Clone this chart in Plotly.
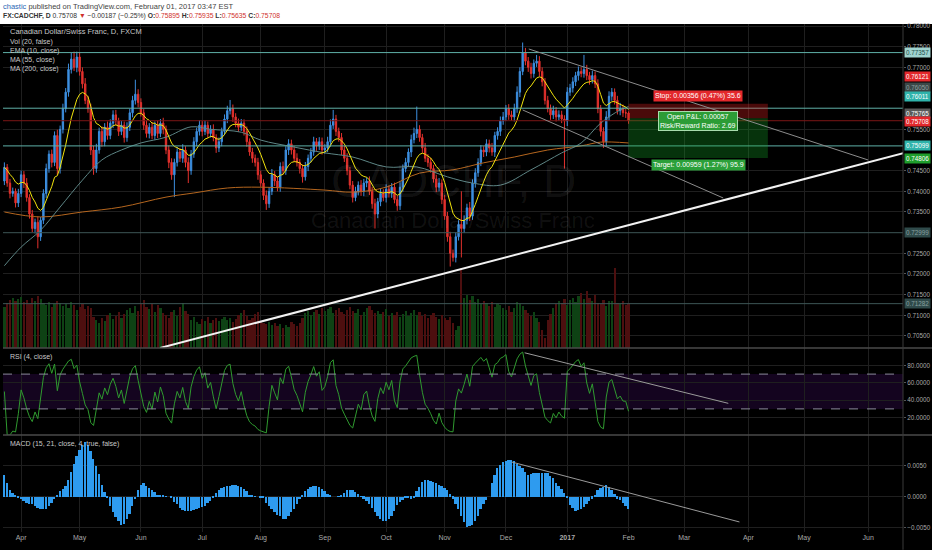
import pandas as pd
import plotly.graph_objects as go

# daily bars (weekdays) Mar 24 2016 .. Feb 01 2017, plus future dates for the axis
dates = pd.bdate_range("2016-03-24", "2017-06-30")

first_open = 0.7425
closes = [
    0.7458, 0.7420, 0.7395, 0.7400, 0.7372, 0.7395, 0.7440, 0.7420, 0.7385, 0.7345,
    0.7310, 0.7325, 0.7290, 0.7330, 0.7395, 0.7455, 0.7490, 0.7470, 0.7535, 0.7455,
    0.7550, 0.7600, 0.7640, 0.7695, 0.7720, 0.7700, 0.7725, 0.7690, 0.7660, 0.7620,
    0.7600, 0.7500, 0.7455, 0.7500, 0.7545, 0.7520, 0.7555, 0.7535, 0.7565, 0.7585,
    0.7570, 0.7545, 0.7560, 0.7530, 0.7555, 0.7590, 0.7620, 0.7635, 0.7615, 0.7590,
    0.7560, 0.7540, 0.7555, 0.7535, 0.7560, 0.7540, 0.7565, 0.7550, 0.7500, 0.7470,
    0.7440, 0.7470, 0.7495, 0.7480, 0.7500, 0.7470, 0.7450, 0.7490, 0.7520, 0.7545,
    0.7560, 0.7545, 0.7560, 0.7540, 0.7550, 0.7530, 0.7505, 0.7520, 0.7545, 0.7575,
    0.7595, 0.7600, 0.7580, 0.7565, 0.7555, 0.7565, 0.7545, 0.7520, 0.7495, 0.7480,
    0.7470, 0.7440, 0.7420, 0.7390, 0.7370, 0.7400, 0.7440, 0.7425, 0.7410, 0.7460,
    0.7450, 0.7500, 0.7515, 0.7500, 0.7480, 0.7470, 0.7455, 0.7435, 0.7460, 0.7480,
    0.7495, 0.7520, 0.7510, 0.7520, 0.7500, 0.7505, 0.7520, 0.7560, 0.7575, 0.7545,
    0.7530, 0.7500, 0.7480, 0.7450, 0.7415, 0.7385, 0.7400, 0.7415, 0.7400, 0.7420,
    0.7425, 0.7400, 0.7370, 0.7345, 0.7375, 0.7395, 0.7385, 0.7405, 0.7395, 0.7410,
    0.7380, 0.7365, 0.7410, 0.7455, 0.7470, 0.7495, 0.7525, 0.7540, 0.7550, 0.7530,
    0.7505, 0.7480, 0.7470, 0.7455, 0.7430, 0.7410, 0.7420, 0.7380, 0.7340, 0.7290,
    0.7250, 0.7240, 0.7290, 0.7320, 0.7310, 0.7330, 0.7360, 0.7340, 0.7420, 0.7445,
    0.7470, 0.7500, 0.7495, 0.7515, 0.7505, 0.7495, 0.7535, 0.7545, 0.7570, 0.7580,
    0.7600, 0.7585, 0.7580, 0.7600, 0.7640, 0.7690, 0.7735, 0.7715, 0.7700, 0.7685,
    0.7710, 0.7715, 0.7690, 0.7665, 0.7620, 0.7600, 0.7585, 0.7595, 0.7580, 0.7585,
    0.7575, 0.7570, 0.7640, 0.7650, 0.7665, 0.7680, 0.7690, 0.7685, 0.7695, 0.7680,
    0.7670, 0.7680, 0.7660, 0.7600, 0.7545, 0.7520, 0.7580, 0.7630, 0.7640, 0.7620,
    0.7595, 0.7600, 0.7590, 0.75895, 0.75708,
]
# wick lengths in pips above the body / below the body
upper_wick = [
    12, 8, 10, 9, 7, 11, 10, 9, 12, 8,
    10, 9, 14, 8, 10, 12, 9, 11, 10, 14,
    9, 12, 10, 14, 15, 18, 13, 12, 10, 14,
    11, 12, 10, 15, 9, 12, 10, 14, 9, 11,
    12, 8, 10, 9, 12, 10, 11, 35, 12, 10,
    9, 11, 10, 12, 9, 11, 10, 13, 9, 11,
    10, 9, 12, 10, 14, 9, 12, 10, 11, 9,
    12, 10, 11, 9, 10, 12, 8, 10, 9, 11,
    12, 21, 10, 9, 11, 10, 9, 12, 8, 10,
    9, 11, 10, 9, 12, 10, 14, 9, 11, 10,
    12, 9, 11, 10, 9, 12, 8, 10, 11, 9,
    10, 12, 9, 11, 10, 9, 12, 14, 22, 10,
    9, 11, 10, 12, 9, 10, 11, 9, 12, 10,
    9, 11, 10, 12, 9, 11, 10, 12, 9, 10,
    11, 9, 12, 10, 11, 9, 12, 14, 55, 10,
    9, 12, 10, 11, 9, 10, 12, 9, 11, 10,
    12, 9, 11, 10, 80, 12, 10, 14, 9, 11,
    10, 12, 9, 11, 10, 12, 9, 10, 11, 12,
    9, 11, 10, 12, 14, 10, 25, 12, 10, 11,
    9, 15, 12, 10, 9, 11, 10, 12, 9, 11,
    10, 9, 12, 10, 11, 9, 12, 10, 35, 11,
    9, 12, 10, 11, 9, 10, 14, 12, 10, 9,
    11, 14, 10, 9, 4,
]
lower_wick = [
    10, 9, 12, 8, 11, 10, 9, 12, 10, 11,
    9, 12, 28, 10, 9, 11, 10, 12, 9, 15,
    12, 10, 9, 11, 10, 9, 12, 10, 11, 9,
    10, 12, 15, 10, 9, 12, 11, 10, 9, 12,
    10, 11, 9, 12, 10, 9, 11, 10, 12, 9,
    11, 10, 12, 9, 10, 11, 9, 12, 10, 14,
    12, 54, 10, 9, 11, 12, 30, 10, 9, 11,
    10, 12, 9, 11, 10, 9, 12, 10, 11, 9,
    10, 9, 12, 10, 11, 9, 10, 12, 9, 11,
    10, 12, 9, 11, 15, 10, 9, 12, 10, 11,
    9, 10, 12, 11, 9, 10, 12, 14, 9, 11,
    10, 9, 12, 10, 11, 9, 10, 12, 9, 11,
    10, 12, 9, 11, 10, 12, 9, 10, 11, 12,
    10, 9, 12, 35, 10, 11, 9, 12, 10, 11,
    9, 12, 10, 11, 9, 10, 12, 9, 11, 10,
    12, 9, 11, 10, 9, 12, 10, 11, 9, 12,
    32, 10, 12, 9, 70, 11, 10, 12, 9, 11,
    10, 9, 12, 10, 11, 9, 12, 10, 11, 9,
    10, 12, 9, 11, 10, 12, 9, 10, 11, 12,
    10, 9, 12, 11, 10, 9, 12, 10, 11, 9,
    10, 115, 12, 9, 11, 10, 12, 9, 10, 11,
    12, 9, 10, 11, 12, 15, 10, 9, 11, 10,
    9, 11, 10, 12, 7.3,
]
volume = [
    41, 45, 48, 50, 47, 49, 51, 46, 48, 44,
    50, 47, 52, 49, 45, 43, 46, 41, 44, 47,
    45, 42, 44, 40, 46, 43, 38, 41, 44, 39,
    42, 40, 31, 28, 25, 30, 27, 33, 35, 29,
    32, 36, 30, 34, 38, 40, 35, 42, 37, 44,
    48, 41, 39, 44, 36, 43, 40, 35, 33, 30,
    36, 38, 32, 41, 45, 37, 34, 28, 31, 26,
    24, 29, 27, 31, 25, 28, 30, 27, 29, 31,
    28, 30, 26, 29, 33, 35, 38, 32, 28, 30,
    34, 36, 27, 25, 24, 26, 23, 25, 22, 24,
    20, 23, 21, 26, 24, 22, 25, 30, 35, 37,
    33, 36, 38, 34, 40, 37, 39, 41, 35, 38,
    40, 36, 34, 38, 41, 37, 35, 39, 33, 36,
    40, 42, 38, 35, 37, 34, 36, 39, 32, 35,
    33, 36, 31, 34, 37, 32, 35, 38, 33, 36,
    32, 34, 30, 33, 35, 31, 29, 33, 30, 28,
    31, 25, 18, 22, 80, 50, 53, 48, 52, 46,
    49, 44, 47, 45, 42, 46, 41, 44, 43, 40,
    38, 42, 36, 40, 46, 44, 42, 38, 35, 32,
    36, 30, 26, 18, 10, 28, 34, 40, 44, 47,
    45, 49, 43, 48, 50, 46, 52, 55, 49, 57,
    50, 47, 53, 45, 44, 48, 42, 47, 47, 80,
    45, 44, 47, 43, 45,
]
macd_hist = [
    36, 22, 12, 6, 2, -2, -4, -7, -9, -11,
    -12, -14, -17, -19, -20, -19, -15, -10, -4, 3,
    9, 13, 17, 28, 40, 53, 66, 76, 84, 89,
    84, 75, 62, 50, 37, 20, 8, -2, -14, -24,
    -32, -39, -45, -44, -36, -27, -14, -4, 12, 19,
    22, 18, 15, 11, 8, 4, 3, 2, 1, 0,
    -2, -8, -12, -18, -21, -23, -23, -22, -21, -19,
    -17, -16, -14, -10, -6, -1, 6, 11, 14, 16,
    17, 18, 19, 19, 18, 16, 13, 9, 4, 2,
    1, 0, -1, -2, -9, -14, -19, -24, -29, -31,
    -35, -35, -30, -25, -19, -12, -4, 3, 9, 13,
    16, 18, 17, 16, 13, 9, 5, 2, 0, 0,
    1, 2, 6, 11, 12, 12, 8, 5, 1, -3,
    -7, -11, -17, -24, -30, -35, -38, -39, -35, -30,
    -22, -13, -8, -5, -2, -2, -3, -1, 9, 16,
    24, 27, 28, 26, 24, 22, 20, 17, 14, 11,
    5, -3, -12, -19, -30, -40, -48, -47, -45, -38,
    -30, -20, -11, -5, 0, 22, 36, 46, 52, 56,
    58, 60, 60, 58, 54, 50, 46, 41, 36, 37,
    38, 38, 39, 39, 38, 38, 34, 30, 23, 17,
    13, 6, -2, -13, -18, -22, -21, -19, -16, -11,
    -7, -3, 3, 11, 14, 16, 19, 16, 11, 5,
    -3, -5, -10, -14, -19,
]

# moving averages (bar index, value)
ma55_idx = [0, 6, 13, 20, 28, 35, 42, 49, 58, 67, 74, 85, 92, 104, 115, 125, 137,
            148, 159, 168, 178, 189, 200, 207, 214, 221, 224]
ma55_val = [0.7220, 0.7265, 0.7306, 0.7362, 0.7427, 0.7476, 0.7500, 0.7517, 0.7531,
            0.7556, 0.7550, 0.7543, 0.7524, 0.7507, 0.7493, 0.7483, 0.7459, 0.7459,
            0.7435, 0.7420, 0.7415, 0.7452, 0.7493, 0.7517, 0.7565, 0.7597, 0.7605]
ma200_idx = [0, 13, 28, 42, 58, 68, 80, 92, 115, 125, 137, 149, 161, 172, 183, 195,
             207, 214, 224]
ma200_val = [0.7350, 0.7338, 0.7350, 0.7362, 0.7386, 0.7396, 0.7408, 0.7410, 0.7403,
             0.7398, 0.7410, 0.7444, 0.7452, 0.7469, 0.7483, 0.7500, 0.7510, 0.7519,
             0.7517]

# price scale ticks that are not hidden behind the coloured labels
price_ticks = [0.705, 0.710, 0.715, 0.720, 0.725, 0.735, 0.740, 0.745, 0.755,
               0.770, 0.775, 0.780]

# drawings (bar index, value)
hlines_teal = [0.77357, 0.76011, 0.75099]
hlines_gray = [0.72999, 0.71282]
last_price = 0.75708
entry, stop, target = 0.75765, 0.76121, 0.74806
box_start, box_end = 224, 274
support_line = [(55.9, 0.7021), (322.9, 0.7493)]
channel_upper = [(188.2, 0.77444), (310.0, 0.74758)]
channel_lower = [(186.0, 0.75968), (258.0, 0.73838)]
rsi_line = [(186.7, 94.5), (259.8, 36.4)]
macd_line = [(182.0, 0.00565), (263.8, -0.00403)]

UP = "#3d8fe0"
DOWN = "#e3312d"
FONT = "Liberation Sans, Arial, sans-serif"


def ema(vals, n):
    k = 2 / (n + 1)
    out = [vals[0]]
    for v in vals[1:]:
        out.append(out[-1] + k * (v - out[-1]))
    return out


def rsi(vals, n):
    out = [50.0]
    avg_g = avg_l = None
    for a, b in zip(vals[:-1], vals[1:]):
        g, l = max(b - a, 0), max(a - b, 0)
        if avg_g is None:
            avg_g, avg_l = g, l
        else:
            avg_g = (avg_g * (n - 1) + g) / n
            avg_l = (avg_l * (n - 1) + l) / n
        out.append(100.0 if avg_l == 0 else 100 - 100 / (1 + avg_g / avg_l))
    return out


n = len(closes)
idx = list(range(n))
opens = [first_open] + closes[:-1]
highs = [max(o, c) + u / 10000 for o, c, u in zip(opens, closes, upper_wick)]
lows = [min(o, c) - d / 10000 for o, c, d in zip(opens, closes, lower_wick)]
vol_colors = ["#0e4214" if c >= o else "#4d0f0f" for o, c in zip(opens, closes)]
ema10 = ema(closes, 10)
rsi4 = rsi(closes, 4)
macd = [v / 10000 for v in macd_hist]

# month ticks
tick_vals, tick_text = [], []
for i in range(1, len(dates)):
    if dates[i].month != dates[i - 1].month:
        tick_vals.append(i)
        tick_text.append("<b>2017</b>" if dates[i].month == 1 else dates[i].strftime("%b"))

fig = go.Figure()
fig.add_trace(go.Bar(x=idx, y=volume, marker=dict(color=vol_colors, line_width=0),
                     width=0.8, yaxis="y4", xaxis="x"))
fig.add_trace(go.Candlestick(
    x=idx, open=opens, high=highs, low=lows, close=closes, yaxis="y", whiskerwidth=0,
    increasing=dict(line=dict(color=UP, width=1), fillcolor=UP),
    decreasing=dict(line=dict(color=DOWN, width=1), fillcolor=DOWN)))
fig.add_trace(go.Scatter(x=ma200_idx, y=ma200_val, mode="lines", yaxis="y",
                         line=dict(color="#b5661e", width=1, shape="spline")))
fig.add_trace(go.Scatter(x=ma55_idx, y=ma55_val, mode="lines", yaxis="y",
                         line=dict(color="#5d8585", width=1, shape="spline")))
fig.add_trace(go.Scatter(x=idx, y=ema10, mode="lines", yaxis="y",
                         line=dict(color="#f2e40c", width=1)))
fig.add_trace(go.Scatter(x=idx, y=rsi4, mode="lines", yaxis="y2",
                         line=dict(color="#2f9a2f", width=1)))
fig.add_trace(go.Bar(x=idx, y=macd, yaxis="y3", width=0.65,
                     marker=dict(color="#2e9bef", line_width=0)))

H = 508  # plot height in px


def py(px):  # pixel row from top of the page -> paper y
    return (532 - px) / H


shapes = []
# header strip
shapes.append(dict(type="rect", xref="paper", yref="paper", x0=-0.01, x1=1.04,
                   y0=1, y1=1.05, fillcolor="white", line_width=0, layer="below"))
# rsi band
shapes.append(dict(type="rect", xref="paper", yref="y2", x0=0, x1=1, y0=30, y1=70,
                   fillcolor="rgba(90,20,140,0.22)", line_width=0, layer="below"))
for lv in (30, 70):
    shapes.append(dict(type="line", xref="paper", yref="y2", x0=0, x1=1, y0=lv, y1=lv,
                       line=dict(color="#8a8a9a", width=1, dash="dash")))
for lv in hlines_gray:
    shapes.append(dict(type="line", xref="paper", yref="y", x0=0, x1=1, y0=lv, y1=lv,
                       line=dict(color="#3d5656", width=1)))
shapes.append(dict(type="line", xref="paper", yref="y", x0=0, x1=1, y0=last_price,
                   y1=last_price, line=dict(color="#7d1616", width=1)))
for lv in hlines_teal:
    shapes.append(dict(type="line", xref="paper", yref="y", x0=0, x1=1, y0=lv, y1=lv,
                       line=dict(color="#5fb0a8", width=1)))
# position box
shapes.append(dict(type="rect", xref="x", yref="y", x0=box_start, x1=box_end, y0=entry,
                   y1=stop, fillcolor="rgba(230,30,30,0.32)", line_width=0))
shapes.append(dict(type="rect", xref="x", yref="y", x0=box_start, x1=box_end, y0=target,
                   y1=entry, fillcolor="rgba(20,170,40,0.30)", line_width=0))
# trend lines
for (a, b), yref, col, w in [
    (support_line, "y", "#f2f2f2", 2),
    (channel_upper, "y", "#8c8c8c", 1),
    (channel_lower, "y", "#8c8c8c", 1),
    (rsi_line, "y2", "#9a9a9a", 1),
    (macd_line, "y3", "#9a9a9a", 1),
]:
    shapes.append(dict(type="line", xref="x", yref=yref, x0=a[0], y0=a[1], x1=b[0], y1=b[1],
                       line=dict(color=col, width=w)))
# pane separators and axis border
for px in (348, 435):
    shapes.append(dict(type="line", xref="paper", yref="paper", x0=0, x1=1.033,
                       y0=py(px), y1=py(px), line=dict(color="#4a4a4a", width=1.5)))
shapes.append(dict(type="line", xref="paper", yref="paper", x0=1, x1=1, y0=-0.035, y1=1,
                   line=dict(color="#3a3a3a", width=1)))

ann = []
ann.append(dict(xref="paper", yref="paper", x=-0.002, y=py(6), xanchor="left",
                yanchor="middle", showarrow=False,
                text='<span style="color:#2a67b5">chastic</span> published on TradingView.com, '
                     'February 01, 2017 03:47 EST',
                font=dict(family=FONT, size=7.5, color="#444")))
red = '<span style="color:#d0312d">%s</span>'
ann.append(dict(xref="paper", yref="paper", x=-0.002, y=py(16), xanchor="left",
                yanchor="middle", showarrow=False,
                text="<b>FX:CADCHF, D</b> 0.75708 " + red % "▼" + " −0.00187 (−0.25%) "
                     "<b>O:</b>" + red % "0.75895" + " <b>H:</b>" + red % "0.75935" +
                     " <b>L:</b>" + red % "0.75635" + " <b>C:</b>" + red % "0.75708",
                font=dict(family=FONT, size=6.8, color="#333")))
for txt, px in [("Canadian Dollar/Swiss Franc, D, FXCM", 32), ("Vol (20, false)", 42),
                ("EMA (10, close)", 51), ("MA (55, close)", 60), ("MA (200, close)", 69),
                ("RSI (4, close)", 357), ("MACD (15, 21, close, 4, true, false)", 444)]:
    ann.append(dict(xref="paper", yref="paper", x=0.006, y=py(px), xanchor="left",
                    yanchor="middle", showarrow=False, text=txt,
                    font=dict(family=FONT, size=7.5 if px == 32 else 7, color="#c8c8c8")))
# watermark
ann.append(dict(xref="paper", yref="paper", x=0.5, y=py(181), yanchor="middle",
                showarrow=False, text="CADCHF, D",
                font=dict(family=FONT, size=46, color="rgba(255,255,255,0.07)")))
ann.append(dict(xref="paper", yref="paper", x=0.5, y=py(220), yanchor="middle",
                showarrow=False, text="Canadian Dollar/Swiss Franc",
                font=dict(family=FONT, size=22, color="rgba(255,255,255,0.07)")))
# position labels
mid = (box_start + box_end) / 2
ann.append(dict(x=mid, y=stop, yref="y", yanchor="bottom", yshift=2, showarrow=False,
                text="Stop: 0.00356 (0.47%) 35.6", bgcolor="#e3282c", borderpad=1,
                font=dict(family=FONT, size=7, color="white")))
ann.append(dict(x=mid, y=0.75700, yref="y", yanchor="middle", showarrow=False,
                text="Open P&L: 0.00057<br>Risk/Reward Ratio: 2.69", bgcolor="#2c9c36",
                bordercolor="#a8dcae", borderwidth=1, borderpad=1,
                font=dict(family=FONT, size=7, color="white")))
ann.append(dict(x=mid, y=target, yref="y", yanchor="top", yshift=-1, showarrow=False,
                text="Target: 0.00959 (1.27%) 95.9", bgcolor="#2ba03a", borderpad=1,
                font=dict(family=FONT, size=7, color="white")))
# price scale labels (value, background, text colour, shift)
for val, bg, fc, shift in [
    (0.77357, "#9fd3cf", "#1d4f4b", 0), (0.76121, "#e3282c", "white", 27),
    (0.76050, "#3c4848", "#8fa0a0", 19), (0.76011, "#2fb3ab", "white", 12),
    (0.75765, "#5a5a5a", "white", 5), (0.75708, "#e3282c", "white", -1),
    (0.75099, "#2fb3ab", "white", 0), (0.74806, "#1f9e2c", "white", 0),
    (0.72999, "#2f4a4a", "#8aa0a0", 0), (0.71282, "#2f4a4a", "#8aa0a0", 0),
]:
    ann.append(dict(xref="paper", yref="y", x=1, y=val, xanchor="left", yanchor="middle",
                    xshift=1, yshift=shift, showarrow=False, text="%.5f" % val,
                    bgcolor=bg, borderpad=1,
                    font=dict(family=FONT, size=6.3, color=fc)))

axis_font = dict(family=FONT, size=6.3, color="#a8a8a8")
grid = "#1f1f1f"
yax = dict(side="right", tickfont=axis_font, gridcolor=grid, zeroline=False,
           ticks="outside", ticklen=2, tickcolor="#555", automargin=False)
fig.update_layout(
    width=932, height=550,
    margin=dict(l=3, r=29, t=24, b=18),
    paper_bgcolor="#000000", plot_bgcolor="#000000",
    showlegend=False, bargap=0,
    shapes=shapes, annotations=ann,
    xaxis=dict(range=[-0.5, 322.5], tickvals=tick_vals, ticktext=tick_text,
               tickfont=dict(family=FONT, size=7, color="#a8a8a8"), gridcolor=grid,
               showline=False, zeroline=False, rangeslider=dict(visible=False),
               anchor="y3", ticks="", automargin=False),
    yaxis=dict(domain=[py(348), 1], range=[0.70209, 0.780484], tickvals=price_ticks,
               tickformat=".5f", **yax),
    yaxis4=dict(domain=[py(348), 1], range=[0, 324], overlaying="y", visible=False,
                automargin=False),
    yaxis2=dict(domain=[py(435), py(348)], range=[0, 100], tickvals=[20, 40, 60, 80],
                tickformat=".4f", **yax),
    yaxis3=dict(domain=[0, py(435)], range=[-0.00565, 0.0100],
                tickvals=[-0.005, 0, 0.005], tickformat=".4f", **yax),
)

# page body has a default 8px margin; drop it so the figure sits at the window corner
fig.write_html("out.html", config={"displayModeBar": False},
               post_script="document.body.style.margin='0';"
                           "document.body.style.overflow='hidden';")
